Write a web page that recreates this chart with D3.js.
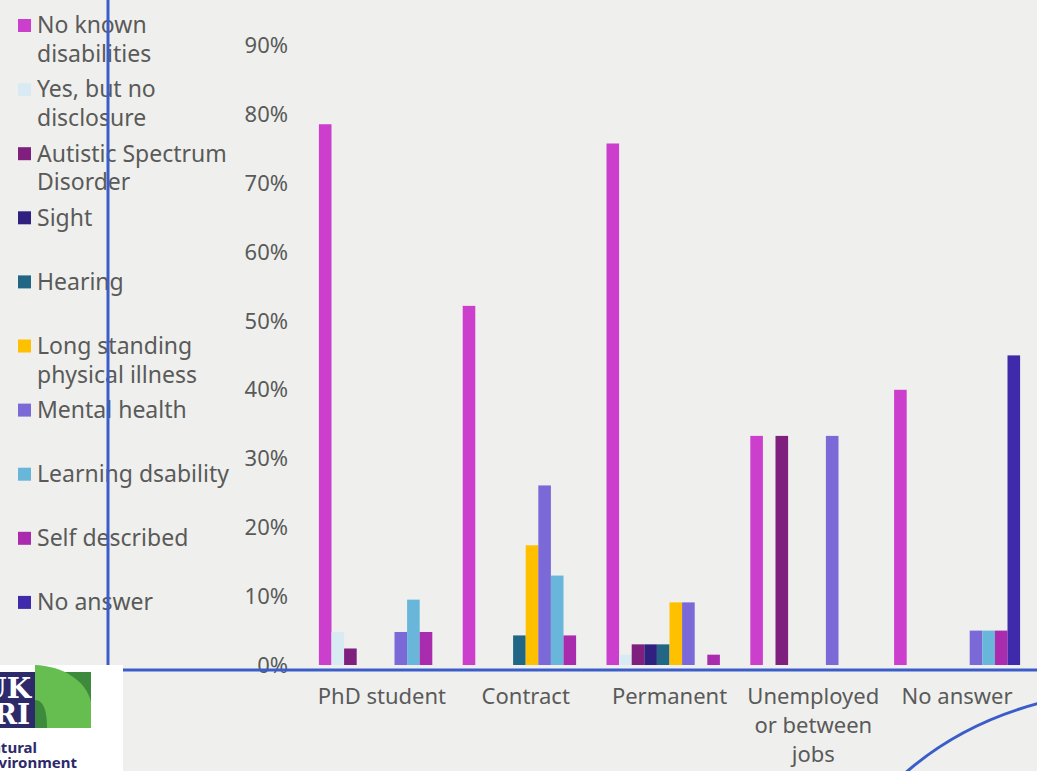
<!DOCTYPE html>
<html><head><meta charset="utf-8">
<script src="https://cdn.jsdelivr.net/npm/d3@7"></script>
<style>html,body{margin:0;padding:0;background:#eff0ed;} svg{display:block;}</style>
</head><body><svg id="chart" width="1037" height="771"></svg>
<script>
// ---- data ----
const categories = ["PhD student", "Contract", "Permanent", "Unemployed or between jobs", "No answer"];
const seriesNames = ["No known disabilities", "Yes, but no disclosure", "Autistic Spectrum Disorder", "Sight", "Hearing",
  "Long standing physical illness", "Mental health", "Learning dsability", "Self described", "No answer"];
const seriesColors = ["#cc3fcd", "#d8ebf2", "#7f1f7e", "#30207f", "#226685", "#ffc000", "#7b69d8", "#68b6da", "#a92bae", "#3e2aab"];
const noKnown        = [78.6, 52.2, 75.8, 33.3, 40.0];
const yesNoDisclose  = [4.8, 0, 1.5, 0, 0];
const autistic       = [2.4, 0, 3.0, 33.3, 0];
const sight          = [0, 0, 3.0, 0, 0];
const hearing        = [0, 4.3, 3.0, 0, 0];
const longStanding   = [0, 17.4, 9.1, 0, 0];
const mentalHealth   = [4.8, 26.1, 9.1, 33.3, 5.0];
const learning       = [9.5, 13.0, 0, 0, 5.0];
const selfDescribed  = [4.8, 4.3, 1.5, 0, 5.0];
const noAnswer       = [0, 0, 0, 0, 45.0];
const yTicks = [0, 10, 20, 30, 40, 50, 60, 70, 80, 90];

const seriesValues = [noKnown, yesNoDisclose, autistic, sight, hearing, longStanding, mentalHealth, learning, selfDescribed, noAnswer];

// ---- layout ----
const FONT = "'Noto Sans', sans-serif";
const TEXT = "#5a5a5a";
const BLUE = "#3b5dc9";
const svg = d3.select("#chart");
svg.append("rect").attr("width", 1037).attr("height", 771).attr("fill", "#eff0ed");

const x = d3.scaleBand().domain(categories).range([310, 1029]).paddingInner(0).paddingOuter(0);
const groupW = 126;
const xs = d3.scaleBand().domain(seriesNames)
  .range([(x.bandwidth() - groupW) / 2, (x.bandwidth() + groupW) / 2]).padding(0);
const y = d3.scaleLinear().domain([0, 90]).range([665, 45.8]);

// bars
const rows = [];
categories.forEach((c, ci) => seriesNames.forEach((s, si) => rows.push({c, s, si, v: seriesValues[si][ci]})));
svg.append("g").selectAll("rect").data(rows.filter(d => d.v > 0)).join("rect")
  .attr("x", d => x(d.c) + xs(d.s))
  .attr("width", xs.bandwidth())
  .attr("y", d => y(d.v))
  .attr("height", d => y(0) - y(d.v))
  .attr("fill", d => seriesColors[d.si]);

// y axis
const yAxis = svg.append("g").attr("transform", "translate(296,0)")
  .call(d3.axisLeft(y).tickValues(yTicks).tickFormat(d => d + "%").tickSize(0).tickPadding(8));
yAxis.select(".domain").remove();
yAxis.selectAll("text").attr("font-family", FONT).attr("font-size", 22).attr("fill", TEXT);

// wrap helper
function wrap(textSel, width, lineH) {
  textSel.each(function () {
    const t = d3.select(this);
    const words = t.text().split(/\s+/);
    const xx = t.attr("x") || 0, yy = t.attr("y") || 0, dy = t.attr("dy") || 0;
    t.text(null);
    let line = [], lineNo = 0;
    let tspan = t.append("tspan").attr("x", xx).attr("y", yy).attr("dy", dy);
    words.forEach(w => {
      line.push(w);
      tspan.text(line.join(" "));
      if (tspan.node().getComputedTextLength() > width && line.length > 1) {
        line.pop();
        tspan.text(line.join(" "));
        line = [w];
        lineNo++;
        tspan = t.append("tspan").attr("x", xx).attr("y", +yy + lineNo * lineH).attr("dy", dy).text(w);
      }
    });
  });
}

// x axis
const xAxis = svg.append("g").attr("transform", "translate(0,670)")
  .call(d3.axisBottom(x).tickSize(0).tickPadding(18));
xAxis.select(".domain").remove();
xAxis.selectAll("text").attr("font-family", FONT).attr("font-size", 22).attr("fill", TEXT)
  .call(wrap, x.step() - 8, 29.3);

// legend
const legend = svg.append("g");
seriesNames.forEach((s, i) => {
  const cy = 25.5 + i * 64.1;
  legend.append("rect").attr("x", 18).attr("y", cy - 6.5).attr("width", 13).attr("height", 13).attr("fill", seriesColors[i]);
  legend.append("text").attr("x", 37).attr("y", cy + 7.8)
    .attr("font-family", FONT).attr("font-size", 23).attr("fill", TEXT).text(s)
    .call(wrap, 205, 28.7);
});

// decorative slide lines
svg.append("line").attr("x1", 108).attr("x2", 108).attr("y1", 0).attr("y2", 668).attr("stroke", BLUE).attr("stroke-width", 3);
svg.append("line").attr("x1", 110).attr("x2", 1037).attr("y1", 670).attr("y2", 670).attr("stroke", BLUE).attr("stroke-width", 3);
svg.append("path").attr("d", "M903,775 Q960,724 1040,703").attr("fill", "none").attr("stroke", BLUE).attr("stroke-width", 3);

// logo (cropped at the slide edge)
const logo = svg.append("g");
logo.append("rect").attr("x", 0).attr("y", 665).attr("width", 123).attr("height", 106).attr("fill", "#ffffff");
logo.append("rect").attr("x", 0).attr("y", 672).attr("width", 35).attr("height", 56).attr("fill", "#2d2a6b");
logo.append("text").attr("x", 31).attr("y", 698).attr("text-anchor", "end").attr("font-family", "'DejaVu Serif', serif")
  .attr("font-weight", 700).attr("font-size", 28).attr("fill", "#fff").text("UK");
logo.append("text").attr("x", 30).attr("y", 724).attr("text-anchor", "end").attr("font-family", "'DejaVu Serif', serif")
  .attr("font-weight", 700).attr("font-size", 28).attr("fill", "#fff").text("RI");
logo.append("rect").attr("x", 35).attr("y", 672).attr("width", 56).attr("height", 56).attr("fill", "#3e8a3c");
logo.append("path").attr("d", "M35,665 C62,666 86,680 91,702 L91,728 L35,728 Z").attr("fill", "#65be4f");
logo.append("path").attr("d", "M35,700 C44,700 47,712 47,728 L35,728 Z").attr("fill", "#3e8a3c");
logo.append("text").attr("x", 37).attr("y", 753).attr("text-anchor", "end").attr("font-family", FONT)
  .attr("font-weight", 700).attr("font-size", 15).attr("fill", "#2d2a6b").text("Natural");
logo.append("text").attr("x", 77).attr("y", 768).attr("text-anchor", "end").attr("font-family", FONT)
  .attr("font-weight", 700).attr("font-size", 15).attr("fill", "#2d2a6b").text("Environment");
</script>
</body></html>
